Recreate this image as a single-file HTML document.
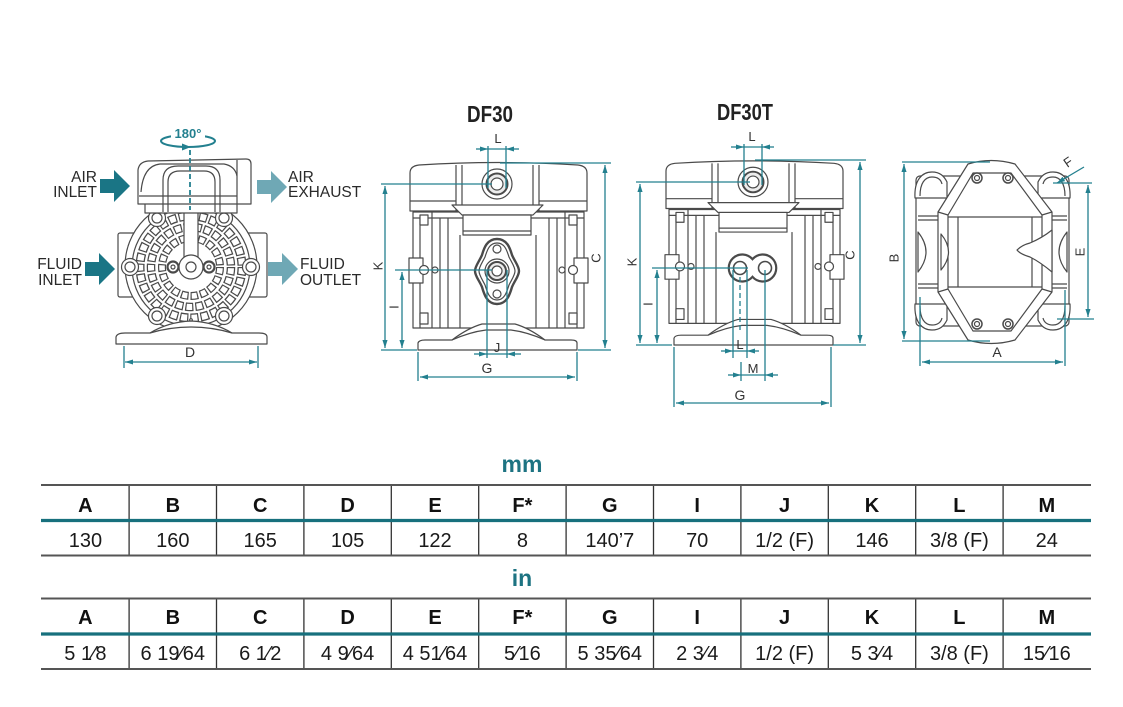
<!DOCTYPE html>
<html><head><meta charset="utf-8">
<style>
html,body{margin:0;padding:0;background:#fff;}
svg{display:block;}
text{font-family:"Liberation Sans",Arial,sans-serif;}
</style></head><body>
<svg width="1123" height="707" viewBox="0 0 1123 707" xmlns="http://www.w3.org/2000/svg">
<defs>
<marker id="ar" viewBox="0 0 10 10" refX="10" refY="5" markerWidth="8" markerHeight="8" markerUnits="userSpaceOnUse" orient="auto-start-reverse">
<path d="M0,1.8 L10,5 L0,8.2 Z" fill="#23808f"/>
</marker>
<g id="pb" fill="#fff" stroke="#4a4a4a" stroke-width="1.2" stroke-linejoin="round">
  <!-- main body -->
  <rect x="413" y="212" width="171" height="116"/>
  <line x1="413" y1="218" x2="584" y2="218"/>
  <line x1="420" y1="218" x2="420" y2="328"/>
  <line x1="432" y1="212" x2="432" y2="328"/>
  <line x1="440" y1="218" x2="440" y2="328"/>
  <line x1="448" y1="218" x2="448" y2="328"/>
  <line x1="460" y1="235" x2="460" y2="328"/>
  <line x1="536" y1="235" x2="536" y2="328"/>
  <line x1="549" y1="218" x2="549" y2="328"/>
  <line x1="557" y1="218" x2="557" y2="328"/>
  <line x1="565" y1="212" x2="565" y2="328"/>
  <line x1="577" y1="218" x2="577" y2="328"/>
  <!-- side tabs -->
  <rect x="409" y="258" width="14" height="25"/>
  <rect x="574" y="258" width="14" height="25"/>
  <circle cx="424" cy="270" r="4.5"/>
  <circle cx="435" cy="270" r="3"/>
  <circle cx="573" cy="270" r="4.5"/>
  <circle cx="562" cy="270" r="3"/>
  <!-- bolts -->
  <rect x="420" y="215" width="8" height="10"/>
  <rect x="569" y="215" width="8" height="10"/>
  <rect x="420" y="313" width="8" height="11"/>
  <rect x="569" y="313" width="8" height="11"/>
  <!-- top housing -->
  <path d="M410,211 L410,173 Q410,166 419,165 Q498,160 578,165 Q587,166 587,173 L587,211 Z"/>
  <line x1="456" y1="165" x2="456" y2="211"/>
  <line x1="462" y1="165" x2="462" y2="206"/>
  <line x1="533" y1="165" x2="533" y2="206"/>
  <line x1="539" y1="165" x2="539" y2="211"/>
  <line x1="410" y1="201" x2="456" y2="201"/>
  <line x1="539" y1="201" x2="587" y2="201"/>
  <path d="M452,205 L462,215 L533,215 L543,205 Z"/>
  <rect x="463" y="215" width="68" height="20"/>
  <line x1="463" y1="231" x2="531" y2="231"/>
  <!-- port -->
  <circle cx="497" cy="184" r="15"/>
  <circle cx="497" cy="184" r="10.5" fill="#ececec" stroke-width="2"/>
  <circle cx="497" cy="184" r="6"/>
  <!-- base -->
  <path d="M418,350 L418,343 Q419,340 425,340 L452,340 Q468,328 482,324 L515,324 Q529,328 545,340 L571,340 Q577,340 577,343 L577,350 Z"/>
  <path d="M452,340 Q470,332 486,330 L511,330 Q527,332 545,340" fill="none"/>
</g>
</defs>

<!-- ================= LEFT FRONT VIEW ================= -->
<g fill="#fff" stroke="#4a4a4a" stroke-width="1.2" stroke-linejoin="round">
  <rect x="118" y="233" width="149" height="64" rx="2"/>
  <circle cx="191" cy="266" r="66"/>
  <circle cx="191" cy="267" r="59"/>
</g>
<g fill="none">
  <circle cx="191" cy="267" r="51" stroke="#4a4a4a" stroke-width="9" stroke-dasharray="8.4 1.937"/>
  <circle cx="191" cy="267" r="51" stroke="#fff" stroke-width="6.4" stroke-dasharray="6 4.337" stroke-dashoffset="-1.2"/>
  <circle cx="191" cy="267" r="40" stroke="#4a4a4a" stroke-width="8.5" stroke-dasharray="8.1 1.953"/>
  <circle cx="191" cy="267" r="40" stroke="#fff" stroke-width="6" stroke-dasharray="5.7 4.353" stroke-dashoffset="-1.2"/>
  <circle cx="191" cy="267" r="29" stroke="#4a4a4a" stroke-width="8" stroke-dasharray="7.6 1.99"/>
  <circle cx="191" cy="267" r="29" stroke="#fff" stroke-width="5.6" stroke-dasharray="5.2 4.39" stroke-dashoffset="-1.2"/>
</g>
<g fill="#fff" stroke="#4a4a4a" stroke-width="1.2" stroke-linejoin="round">
  <rect x="184" y="206" width="14" height="52"/>
  <circle cx="191" cy="267" r="12"/>
  <circle cx="191" cy="267" r="5"/>
  <circle cx="173" cy="267" r="5.5" stroke-width="2.2"/>
  <circle cx="173" cy="267" r="2"/>
  <circle cx="209" cy="267" r="5.5" stroke-width="2.2"/>
  <circle cx="209" cy="267" r="2"/>
  <circle cx="157" cy="218" r="8.5"/><circle cx="157" cy="218" r="5"/>
  <circle cx="224" cy="218" r="8.5"/><circle cx="224" cy="218" r="5"/>
  <circle cx="130" cy="267" r="8.5"/><circle cx="130" cy="267" r="5"/>
  <circle cx="251" cy="267" r="8.5"/><circle cx="251" cy="267" r="5"/>
  <circle cx="157" cy="316" r="8.5"/><circle cx="157" cy="316" r="5"/>
  <circle cx="224" cy="316" r="8.5"/><circle cx="224" cy="316" r="5"/>
  <circle cx="191" cy="320" r="1.3"/>
  <!-- top housing -->
  <rect x="145" y="202" width="92" height="11"/>
  <path d="M138,204 L138,170 Q139,162 148,161 L246,159 Q251,159 251,164 L251,204 Z"/>
  <line x1="237" y1="160" x2="237" y2="204"/>
  <line x1="139" y1="196" x2="237" y2="196"/>
  <path d="M141,192 Q143,166 160,164 L224,164 Q235,166 237,176" fill="none"/>
  <path d="M163,212 L163,180 Q163,166 178,166 L206,166 Q220,166 220,180 L220,212" fill="none"/>
  <path d="M168,212 L168,182 Q168,171 180,171 L204,171 Q215,171 215,182 L215,212" fill="none"/>
  <!-- base -->
  <path d="M116,344 L116,337 Q117,333 125,333 L150,333 Q168,322 191,321 Q214,322 232,333 L259,333 Q267,333 267,337 L267,344 Z"/>
  <path d="M150,333 Q170,327 191,327 Q212,327 232,333" fill="none"/>
</g>
<line x1="190" y1="150" x2="190" y2="210" stroke="#23808f" stroke-width="1.8" stroke-dasharray="5 3"/>
<!-- 180 -->
<ellipse cx="188" cy="141" rx="27" ry="6" fill="none" stroke="#23808f" stroke-width="2"/>
<rect x="171" y="126" width="34" height="12" fill="#fff"/>
<text x="188" y="138" font-size="13" font-weight="bold" fill="#23808f" text-anchor="middle">180°</text>
<path d="M182,143.5 L191,147 L182,150.5 Z" fill="#23808f"/>
<!-- D -->
<g stroke="#23808f" stroke-width="1.3" fill="none">
  <line x1="124" y1="346" x2="124" y2="368"/>
  <line x1="258" y1="346" x2="258" y2="368"/>
  <line x1="125" y1="362" x2="257" y2="362" marker-start="url(#ar)" marker-end="url(#ar)"/>
</g>
<text x="190" y="357" font-size="14" fill="#333" text-anchor="middle">D</text>

<!-- flow arrows -->
<path d="M100,179 L114,179 L114,170 L130,186 L114,202 L114,193 L100,193 Z" fill="#1a7585"/>
<path d="M257,180 L271,180 L271,171 L287,187 L271,203 L271,194 L257,194 Z" fill="#6fa8b5"/>
<path d="M85,262 L99,262 L99,253 L115,269 L99,285 L99,276 L85,276 Z" fill="#1a7585"/>
<path d="M268,262 L282,262 L282,253 L298,269 L282,285 L282,276 L268,276 Z" fill="#6fa8b5"/>
<g font-size="15.5" fill="#2a2a2a">
  <text x="97" y="182" text-anchor="end">AIR</text>
  <text x="97" y="197" text-anchor="end">INLET</text>
  <text x="288" y="182">AIR</text>
  <text x="288" y="197">EXHAUST</text>
  <text x="82" y="269" text-anchor="end">FLUID</text>
  <text x="82" y="285" text-anchor="end">INLET</text>
  <text x="300" y="269">FLUID</text>
  <text x="300" y="285">OUTLET</text>
</g>

<!-- ================= DF30 ================= -->
<text x="490" y="122" font-size="23" font-weight="bold" fill="#222" text-anchor="middle" textLength="46" lengthAdjust="spacingAndGlyphs">DF30</text>
<use href="#pb"/>
<g fill="#fff" stroke="#4a4a4a" stroke-width="1.2">
  <path d="M497,239 C507,239 510,248 512,255 C515,262 519,266 519,271 C519,276 515,280 512,287 C510,294 507,304 497,304 C487,304 484,294 482,287 C479,280 475,276 475,271 C475,266 479,262 482,255 C484,248 487,239 497,239 Z" stroke-width="2.4"/>
  <path d="M497,243 C505,243 507,251 509,257 C512,263 515,267 515,271 C515,275 512,279 509,285 C507,291 505,300 497,300 C489,300 487,291 485,285 C482,279 479,275 479,271 C479,267 482,263 485,257 C487,251 489,243 497,243 Z"/>
  <circle cx="497" cy="249" r="4"/>
  <circle cx="497" cy="294" r="4"/>
  <circle cx="497" cy="271" r="12"/>
  <circle cx="497" cy="271" r="9" fill="#ececec" stroke-width="2"/>
  <circle cx="497" cy="271" r="5"/>
</g>
<g stroke="#23808f" stroke-width="1.3" fill="none">
  <!-- L -->
  <line x1="488" y1="146" x2="488" y2="188"/>
  <line x1="506" y1="146" x2="506" y2="188"/>
  <line x1="488" y1="149" x2="506" y2="149"/>
  <line x1="476" y1="149" x2="488" y2="149" marker-end="url(#ar)"/>
  <line x1="519" y1="149" x2="506" y2="149" marker-end="url(#ar)"/>
  <!-- K -->
  <line x1="381" y1="184" x2="492" y2="184"/>
  <line x1="385" y1="186" x2="385" y2="348" marker-start="url(#ar)" marker-end="url(#ar)"/>
  <!-- I -->
  <line x1="395" y1="270" x2="492" y2="270"/>
  <line x1="402" y1="272" x2="402" y2="348" marker-start="url(#ar)" marker-end="url(#ar)"/>
  <!-- base ext -->
  <line x1="381" y1="350" x2="417" y2="350"/>
  <line x1="578" y1="350" x2="611" y2="350"/>
  <!-- C -->
  <line x1="500" y1="163" x2="611" y2="163"/>
  <line x1="605" y1="165" x2="605" y2="348" marker-start="url(#ar)" marker-end="url(#ar)"/>
  <!-- J -->
  <line x1="487" y1="270" x2="487" y2="358"/>
  <line x1="507" y1="270" x2="507" y2="358"/>
  <line x1="487" y1="354" x2="507" y2="354"/>
  <line x1="474" y1="354" x2="487" y2="354" marker-end="url(#ar)"/>
  <line x1="521" y1="354" x2="507" y2="354" marker-end="url(#ar)"/>
  <!-- G -->
  <line x1="418" y1="352" x2="418" y2="381"/>
  <line x1="577" y1="352" x2="577" y2="381"/>
  <line x1="420" y1="377" x2="575" y2="377" marker-start="url(#ar)" marker-end="url(#ar)"/>
</g>
<g font-size="13" fill="#333" text-anchor="middle">
  <text x="498" y="143">L</text>
  <text x="497" y="352">J</text>
  <text x="487" y="373" font-size="14">G</text>
  <text transform="translate(378,266) rotate(-90)" dy="4.6">K</text>
  <text transform="translate(394,307) rotate(-90)" dy="4.6">I</text>
  <text transform="translate(596,258) rotate(-90)" dy="4.6">C</text>
</g>

<!-- ================= DF30T ================= -->
<text x="745" y="120" font-size="23" font-weight="bold" fill="#222" text-anchor="middle" textLength="56" lengthAdjust="spacingAndGlyphs">DF30T</text>
<use href="#pb" transform="matrix(1,0,0,0.982,256,1.3)"/>
<g fill="#fff" stroke="#4a4a4a">
  <path d="M752.5,259.2 A13.5,13.5 0 1,0 752.5,276.8 A13.5,13.5 0 1,0 752.5,259.2 Z" stroke-width="2.2"/>
  <circle cx="740" cy="268" r="6.5" stroke-width="1.6"/>
  <circle cx="765" cy="268" r="6.5" stroke-width="1.6"/>
</g>
<g stroke="#23808f" stroke-width="1.3" fill="none">
  <!-- L top -->
  <line x1="744" y1="144" x2="744" y2="185"/>
  <line x1="762" y1="144" x2="762" y2="185"/>
  <line x1="744" y1="147" x2="762" y2="147"/>
  <line x1="731" y1="147" x2="744" y2="147" marker-end="url(#ar)"/>
  <line x1="774" y1="147" x2="762" y2="147" marker-end="url(#ar)"/>
  <!-- K -->
  <line x1="636" y1="182" x2="750" y2="182"/>
  <line x1="640" y1="184" x2="640" y2="343" marker-start="url(#ar)" marker-end="url(#ar)"/>
  <!-- I -->
  <line x1="652" y1="268" x2="748" y2="268"/>
  <line x1="657" y1="270" x2="657" y2="343" marker-start="url(#ar)" marker-end="url(#ar)"/>
  <!-- base ext -->
  <line x1="636" y1="345" x2="672" y2="345"/>
  <line x1="833" y1="345" x2="866" y2="345"/>
  <!-- C -->
  <line x1="755" y1="160" x2="866" y2="160"/>
  <line x1="860" y1="162" x2="860" y2="343" marker-start="url(#ar)" marker-end="url(#ar)"/>
  <!-- lower L -->
  <line x1="733" y1="270" x2="733" y2="358"/>
  <line x1="747" y1="270" x2="747" y2="358"/>
  <line x1="740" y1="277" x2="740" y2="330" stroke-dasharray="5 3"/>
  <line x1="733" y1="351" x2="747" y2="351"/>
  <line x1="721" y1="351" x2="733" y2="351" marker-end="url(#ar)"/>
  <line x1="759" y1="351" x2="747" y2="351" marker-end="url(#ar)"/>
  <!-- M -->
  <line x1="741" y1="362" x2="741" y2="381"/>
  <line x1="765" y1="270" x2="765" y2="381"/>
  <line x1="741" y1="375" x2="765" y2="375"/>
  <line x1="728" y1="375" x2="741" y2="375" marker-end="url(#ar)"/>
  <line x1="778" y1="375" x2="765" y2="375" marker-end="url(#ar)"/>
  <!-- G -->
  <line x1="674" y1="347" x2="674" y2="407"/>
  <line x1="831" y1="347" x2="831" y2="407"/>
  <line x1="676" y1="403" x2="829" y2="403" marker-start="url(#ar)" marker-end="url(#ar)"/>
</g>
<g font-size="13" fill="#333" text-anchor="middle">
  <text x="752" y="141">L</text>
  <text x="740" y="349">L</text>
  <text x="753" y="373">M</text>
  <text x="740" y="400" font-size="14">G</text>
  <text transform="translate(632,262) rotate(-90)" dy="4.6">K</text>
  <text transform="translate(648,304) rotate(-90)" dy="4.6">I</text>
  <text transform="translate(850,255) rotate(-90)" dy="4.6">C</text>
</g>

<!-- ================= TOP VIEW ================= -->
<g fill="#fff" stroke="#4a4a4a" stroke-width="1.2" stroke-linejoin="round">
  <rect x="916" y="176" width="153" height="150" rx="4"/>
  <line x1="918" y1="216" x2="1067" y2="216"/>
  <line x1="918" y1="220" x2="1067" y2="220"/>
  <line x1="918" y1="284" x2="1067" y2="284"/>
  <line x1="918" y1="288" x2="1067" y2="288"/>
  <!-- corner feet -->
  <path d="M915,198 C914,180 922,172 932,172 C940,172 944,176 947,182 L947,198 Z"/>
  <path d="M920,196 C920,183 925,177 932,177 C938,177 941,180 942,184" fill="none"/>
  <path d="M1070,198 C1071,180 1063,172 1053,172 C1045,172 1041,176 1038,182 L1038,198 Z"/>
  <path d="M1065,196 C1065,183 1060,177 1053,177 C1047,177 1044,180 1043,184" fill="none"/>
  <path d="M915,304 C914,322 922,330 932,330 C940,330 944,326 947,320 L947,304 Z"/>
  <path d="M920,306 C920,319 925,325 932,325 C938,325 941,322 942,318" fill="none"/>
  <path d="M1070,304 C1071,322 1063,330 1053,330 C1045,330 1041,326 1038,320 L1038,304 Z"/>
  <path d="M1065,306 C1065,319 1060,325 1053,325 C1047,325 1044,322 1043,318" fill="none"/>
  <!-- side lenses -->
  <path d="M918,232 Q934,252 918,272 Z"/>
  <path d="M1067,232 Q1051,252 1067,272 Z"/>
  <!-- frame -->
  <path d="M968,164 Q991,157 1015,164 L1052,212 L1052,292 L1015,340 Q991,347 968,340 L938,292 L938,212 Z"/>
  <path d="M973,173 L1011,173 L1042,215 L1042,289 L1011,331 L973,331 L948,289 L948,215 Z"/>
  <line x1="938" y1="212" x2="948" y2="215"/>
  <line x1="1052" y1="212" x2="1042" y2="215"/>
  <line x1="938" y1="292" x2="948" y2="289"/>
  <line x1="1052" y1="292" x2="1042" y2="289"/>
  <line x1="948" y1="217" x2="1042" y2="217"/>
  <line x1="948" y1="287" x2="1042" y2="287"/>
  <line x1="958" y1="217" x2="958" y2="287"/>
  <line x1="1032" y1="217" x2="1032" y2="287"/>
  <!-- left bump -->
  <path d="M941,234 Q956,252 941,270 Z"/>
  <!-- knob -->
  <path d="M1052,230 L1052,272 Q1040,262 1030,257 Q1020,254 1017,250 Q1022,245 1030,243 Q1042,238 1052,230 Z"/>
  <!-- bolts -->
  <circle cx="977" cy="178" r="5" stroke-width="1.5"/><circle cx="977" cy="178" r="2.5"/>
  <circle cx="1008" cy="178" r="5" stroke-width="1.5"/><circle cx="1008" cy="178" r="2.5"/>
  <circle cx="977" cy="324" r="5" stroke-width="1.5"/><circle cx="977" cy="324" r="2.5"/>
  <circle cx="1008" cy="324" r="5" stroke-width="1.5"/><circle cx="1008" cy="324" r="2.5"/>
</g>
<g stroke="#23808f" stroke-width="1.3" fill="none">
  <!-- B -->
  <line x1="902" y1="162" x2="990" y2="162"/>
  <line x1="902" y1="341" x2="990" y2="341"/>
  <line x1="904" y1="164" x2="904" y2="339" marker-start="url(#ar)" marker-end="url(#ar)"/>
  <!-- A -->
  <line x1="920" y1="297" x2="920" y2="366"/>
  <line x1="1065" y1="290" x2="1065" y2="366"/>
  <line x1="922" y1="362" x2="1063" y2="362" marker-start="url(#ar)" marker-end="url(#ar)"/>
  <!-- E -->
  <line x1="1053" y1="183" x2="1092" y2="183"/>
  <line x1="1057" y1="319" x2="1094" y2="319"/>
  <line x1="1088" y1="185" x2="1088" y2="317" marker-start="url(#ar)" marker-end="url(#ar)"/>
  <!-- F -->
  <line x1="1084" y1="167" x2="1057" y2="183" marker-end="url(#ar)"/>
</g>
<g font-size="13" fill="#333" text-anchor="middle">
  <text x="997" y="357" font-size="14">A</text>
  <text transform="translate(894,258) rotate(-90)" dy="4.6">B</text>
  <text transform="translate(1080,252) rotate(-90)" dy="4.6">E</text>
  <text transform="translate(1068,162) rotate(-35)" dy="4.6">F</text>
</g>

<!-- ================= TABLES ================= -->
<text x="522" y="472" font-size="23" font-weight="bold" fill="#1d7382" text-anchor="middle">mm</text>
<text x="522" y="586" font-size="23" font-weight="bold" fill="#1d7382" text-anchor="middle">in</text>

<g stroke="#333" stroke-width="1.3">
  <line x1="129.1" y1="485" x2="129.1" y2="555"/>
  <line x1="216.5" y1="485" x2="216.5" y2="555"/>
  <line x1="303.9" y1="485" x2="303.9" y2="555"/>
  <line x1="391.3" y1="485" x2="391.3" y2="555"/>
  <line x1="478.7" y1="485" x2="478.7" y2="555"/>
  <line x1="566.1" y1="485" x2="566.1" y2="555"/>
  <line x1="653.5" y1="485" x2="653.5" y2="555"/>
  <line x1="740.9" y1="485" x2="740.9" y2="555"/>
  <line x1="828.3" y1="485" x2="828.3" y2="555"/>
  <line x1="915.7" y1="485" x2="915.7" y2="555"/>
  <line x1="1003.1" y1="485" x2="1003.1" y2="555"/>
  <line x1="129.1" y1="598" x2="129.1" y2="669"/>
  <line x1="216.5" y1="598" x2="216.5" y2="669"/>
  <line x1="303.9" y1="598" x2="303.9" y2="669"/>
  <line x1="391.3" y1="598" x2="391.3" y2="669"/>
  <line x1="478.7" y1="598" x2="478.7" y2="669"/>
  <line x1="566.1" y1="598" x2="566.1" y2="669"/>
  <line x1="653.5" y1="598" x2="653.5" y2="669"/>
  <line x1="740.9" y1="598" x2="740.9" y2="669"/>
  <line x1="828.3" y1="598" x2="828.3" y2="669"/>
  <line x1="915.7" y1="598" x2="915.7" y2="669"/>
  <line x1="1003.1" y1="598" x2="1003.1" y2="669"/>
</g>
<g stroke="#555" stroke-width="2">
  <line x1="41" y1="485" x2="1091" y2="485"/>
  <line x1="41" y1="555.5" x2="1091" y2="555.5"/>
  <line x1="41" y1="598.5" x2="1091" y2="598.5"/>
  <line x1="41" y1="669" x2="1091" y2="669"/>
</g>
<g stroke="#17707d" stroke-width="3.2">
  <line x1="41" y1="520.5" x2="1091" y2="520.5"/>
  <line x1="41" y1="634" x2="1091" y2="634"/>
</g>

<g font-size="20" font-weight="bold" fill="#111" text-anchor="middle">
  <text x="85.4" y="512">A</text><text x="172.8" y="512">B</text><text x="260.2" y="512">C</text>
  <text x="347.6" y="512">D</text><text x="435" y="512">E</text><text x="522.4" y="512">F*</text>
  <text x="609.8" y="512">G</text><text x="697.2" y="512">I</text><text x="784.6" y="512">J</text>
  <text x="872" y="512">K</text><text x="959.4" y="512">L</text><text x="1046.8" y="512">M</text>
  <text x="85.4" y="624">A</text><text x="172.8" y="624">B</text><text x="260.2" y="624">C</text>
  <text x="347.6" y="624">D</text><text x="435" y="624">E</text><text x="522.4" y="624">F*</text>
  <text x="609.8" y="624">G</text><text x="697.2" y="624">I</text><text x="784.6" y="624">J</text>
  <text x="872" y="624">K</text><text x="959.4" y="624">L</text><text x="1046.8" y="624">M</text>
</g>
<g font-size="20" fill="#1a1a1a" text-anchor="middle">
  <text x="85.4" y="547">130</text><text x="172.8" y="547">160</text><text x="260.2" y="547">165</text>
  <text x="347.6" y="547">105</text><text x="435" y="547">122</text><text x="522.4" y="547">8</text>
  <text x="609.8" y="547">140’7</text><text x="697.2" y="547">70</text><text x="784.6" y="547">1/2 (F)</text>
  <text x="872" y="547">146</text><text x="959.4" y="547">3/8 (F)</text><text x="1046.8" y="547">24</text>
  <text x="85.4" y="660">5 1⁄8</text><text x="172.8" y="660">6 19⁄64</text><text x="260.2" y="660">6 1⁄2</text>
  <text x="347.6" y="660">4 9⁄64</text><text x="435" y="660">4 51⁄64</text><text x="522.4" y="660">5⁄16</text>
  <text x="609.8" y="660">5 35⁄64</text><text x="697.2" y="660">2 3⁄4</text><text x="784.6" y="660">1/2 (F)</text>
  <text x="872" y="660">5 3⁄4</text><text x="959.4" y="660">3/8 (F)</text><text x="1046.8" y="660">15⁄16</text>
</g>
</svg>
</body></html>
